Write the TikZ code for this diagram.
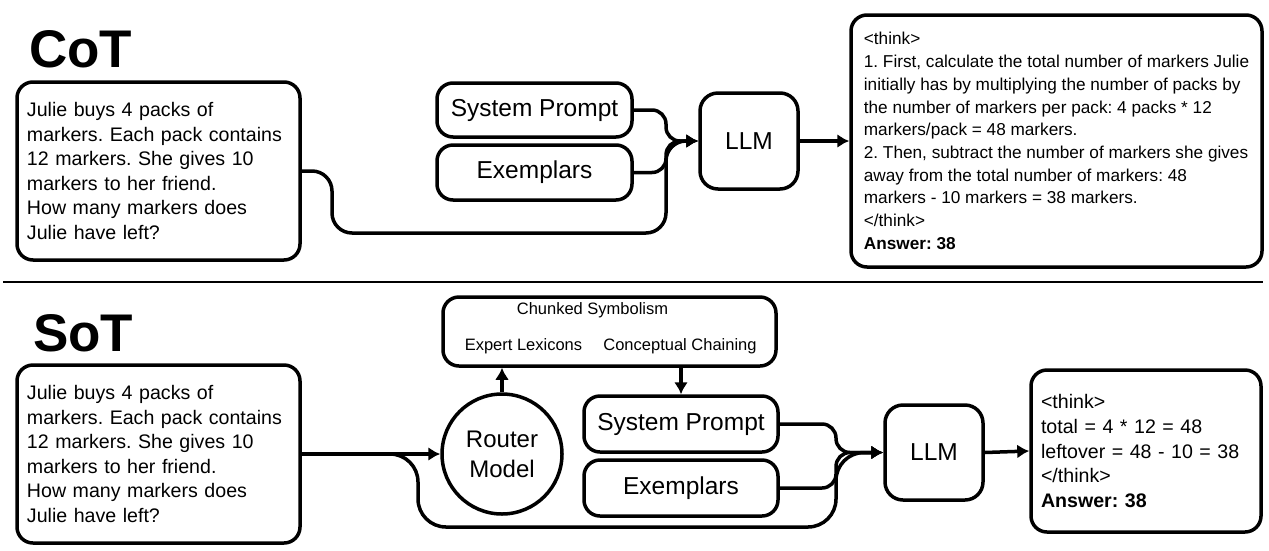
\documentclass[tikz,border=0pt]{standalone}
\usepackage{fontspec}
\setmainfont{Liberation Sans}
\usetikzlibrary{arrows.meta}
\frenchspacing

\newcommand{\qfont}{\fontsize{19.6}{24.6}\selectfont}
\newcommand{\afont}{\fontsize{17.2}{22.7}\selectfont}
\newcommand{\pfont}{\fontsize{24.5}{30}\selectfont}

\tikzset{
  ttl/.style={anchor=west, inner sep=0pt, font=\fontsize{53}{53}\selectfont\bfseries},
  pbox/.style={draw, line width=3.5pt, rounded corners=16pt, inner sep=0pt, font=\pfont},
  tbox/.style={draw, line width=3.5pt, rounded corners=16pt, align=left, inner ysep=0pt},
  lbl/.style={inner sep=0pt, font=\fontsize{16.5}{20}\selectfont},
  flow/.style={line width=3.5pt, rounded corners=#1},
  flow/.default=20pt,
  arr/.style={line width=3.5pt, -{Latex[length=12pt,width=14pt]}},
}

\begin{document}
\begin{tikzpicture}[x=1pt, y=-1pt]
  \useasboundingbox (0,0) rectangle (1269,550);

  % ---- CoT ----
  \node[ttl] (cottitle) at (29,49) {CoT};
  \node[tbox, text width=263pt, inner xsep=10pt, minimum height=178pt, font=\qfont] (cotq) at (158.5,171)
    {Julie buys 4 packs of\\ markers. Each pack contains\\ 12 markers. She gives 10\\ markers to her friend.\\ How many markers does\\ Julie have left?};
  \node[pbox, minimum width=195pt, minimum height=54pt] (cotsp) at (534.5,110) {System Prompt};
  \node[pbox, minimum width=195pt, minimum height=55pt] (cotex) at (534.5,172.5) {Exemplars};
  \node[pbox, minimum width=98pt, minimum height=96pt, rounded corners=18pt] (cotllm) at (749,141) {LLM};
  \node[tbox, inner xsep=0pt, minimum width=411pt, minimum height=252pt, font=\afont] (cotans) at (1056.5,141)
    {<think>\\ 1. First, calculate the total number of markers Julie\\ initially has by multiplying the number of packs by\\ the number of markers per pack: 4 packs * 12\\ markers/pack = 48 markers.\\ 2. Then, subtract the number of markers she gives\\ away from the total number of markers: 48\\ markers - 10 markers = 38 markers.\\ </think>\\ \textbf{Answer: 38}};

  \coordinate (cotmerge) at (666,141);
  \draw[flow=14pt, arr] (cotsp.east) -| (cotmerge) -- (cotllm.west);
  \draw[flow=14pt, arr] (cotex.east) -| (cotmerge) -- (cotllm.west);
  \draw[flow, arr] (cotq.east) -| (332,233) -| (cotmerge) -- (cotllm.west);
  \draw[arr] (cotllm.east) -- (cotans.west);

  \draw[line width=1.5pt] (3,282) -- (1263,282);

  % ---- SoT ----
  \node[ttl] (sottitle) at (33,333) {SoT};
  \node[tbox, text width=263pt, inner xsep=10pt, minimum height=178pt, font=\qfont] (sotq) at (158.5,454)
    {Julie buys 4 packs of\\ markers. Each pack contains\\ 12 markers. She gives 10\\ markers to her friend.\\ How many markers does\\ Julie have left?};
  \node[circle, draw, line width=3.5pt, minimum size=120pt, inner sep=0pt, align=center, font=\fontsize{24}{30}\selectfont] (router) at (502,454) {Router\\Model};
  \node[pbox, minimum width=333pt, minimum height=69pt] (chunk) at (609.5,331.5) {};
  \node[lbl] (chunklbl) at (592.5,310) {Chunked Symbolism};
  \node[lbl] (lexlbl) at (523.5,346) {Expert Lexicons};
  \node[lbl] (chainlbl) at (680,346) {Conceptual Chaining};
  \node[pbox, minimum width=194pt, minimum height=56pt] (sotsp) at (681,424) {System Prompt};
  \node[pbox, minimum width=194pt, minimum height=56pt] (sotex) at (681,488) {Exemplars};
  \node[pbox, minimum width=98pt, minimum height=95pt, rounded corners=18pt] (sotllm) at (934,452.5) {LLM};
  \node[tbox, text width=210pt, inner xsep=10pt, minimum height=162pt, font=\qfont] (sotans) at (1146,451)
    {<think>\\ total = 4 * 12 = 48\\ leftover = 48 - 10 = 38\\ </think>\\ \textbf{Answer: 38}};

  \draw[arr] (sotq.east) -- (router.west);
  \draw[arr] (router.north) -- (router.north |- chunk.south);
  \draw[arr] (sotsp.north |- chunk.south) -- (sotsp.north);
  \coordinate (sotmerge) at (836,452.5);
  \draw[flow=14pt, arr] (sotsp.east) -| (sotmerge) -- (sotllm.west);
  \draw[flow=14pt, arr] (sotex.east) -| (sotmerge) -- (sotllm.west);
  \draw[flow=28pt, arr] (sotq.east) -| (418,527) -| (sotmerge) -- (sotllm.west);
  \draw[arr] (sotllm.east) -- (sotans.west);
\end{tikzpicture}
\end{document}
